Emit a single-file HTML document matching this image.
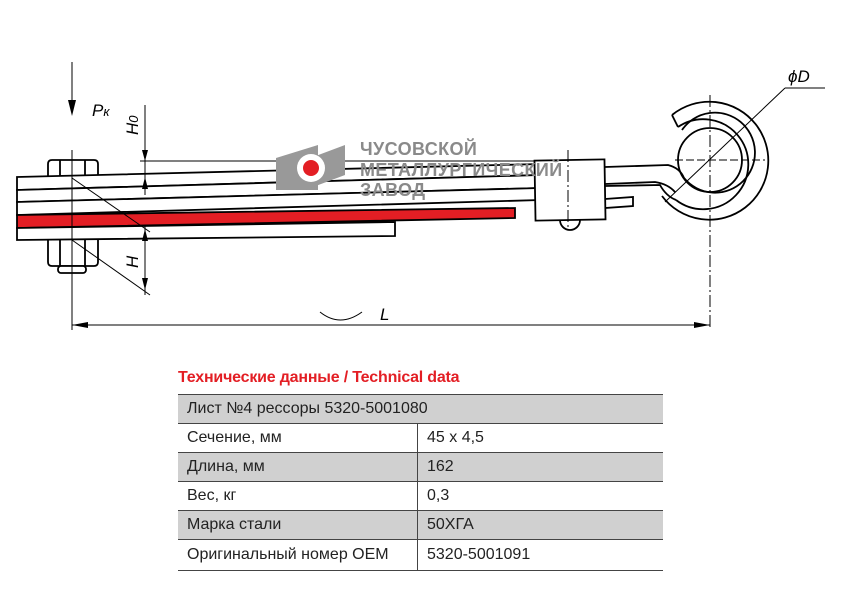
<!DOCTYPE html>
<html><head><meta charset="utf-8"><style>
body{margin:0;background:#fff;width:842px;height:595px;overflow:hidden;position:relative;font-family:"Liberation Sans",sans-serif}
.t{position:absolute;left:178px;top:369px;color:#e31e24;font-weight:bold;font-size:16px;letter-spacing:-0.2px}
table{position:absolute;left:178px;top:394px;width:485px;border-collapse:collapse;font-size:16px;color:#222}
td{height:28px;padding:0 0 0 9px;border-bottom:1.5px solid #444}
tr:first-child td{border-top:1.5px solid #444}
.g td{background:#d0d0d0}
td.c{border-left:1px solid #444;width:236px}
</style></head><body>
<svg width="842" height="365" style="position:absolute;left:0;top:0" font-family="Liberation Sans,sans-serif">
<g stroke="#000" stroke-width="1.8" fill="#fff">
<path d="M48,177 v-13 q0,-4 4,-4 h42 q4,0 4,4 v13"/>
<line x1="60" y1="160" x2="60" y2="177"/><line x1="85" y1="160" x2="85" y2="177"/>
<path d="M48,240 v22 q0,4 4,4 h42 q4,0 4,-4 v-22"/>
<line x1="60" y1="240" x2="60" y2="266"/><line x1="85" y1="240" x2="85" y2="266"/>
<rect x="58" y="266" width="28" height="7" rx="3"/>
<path d="M17,177 L540,164 L540,175 L17,190 Z"/>
<path d="M17,190 L540,175 L540,188 L17,202 Z"/>
<path d="M17,202 L540,188 L540,200 L17,215 Z"/>
<path d="M17,215 L515,208 L515,218 L17,228 Z" fill="#e31e24"/>
<path d="M17,228 L395,222 L395,236 L17,240 Z"/>
<path d="M605,199 L633,197 L633,206 L605,208 Z"/>
<path d="M560,220 a10,10 0 0 0 20,0" />
<path d="M605,167 L668,165 Q680,168 684,178"/>
<path d="M605,184 L655,182 Q668,184 675,192"/>
<path d="M605,186 L660,185 Q666,196 676,200"/>
<rect x="535" y="160" width="70" height="60" transform="rotate(-1 570 190)"/>
</g>
<g stroke="#000" stroke-width="1.8" fill="none">
<circle cx="710" cy="160" r="32"/>
<path d="M672,115 A59,59 0 1 1 662,196"/>
<path d="M672,115 L678,127"/>
<path d="M678,127 A45,45 0 1 1 676,200"/>
<path d="M684,178 A40,40 0 1 0 682,130"/>
</g>
<g stroke="#000" fill="none" stroke-width="1">
<line x1="72" y1="62" x2="72" y2="110"/>
<line x1="72" y1="150" x2="72" y2="330"/>
<line x1="145" y1="105" x2="145" y2="195"/>
<line x1="145" y1="225" x2="145" y2="295"/>
<line x1="140" y1="161" x2="535" y2="161"/>
<line x1="72" y1="178" x2="150" y2="232"/>
<line x1="72" y1="240" x2="150" y2="295"/>
<line x1="710" y1="95" x2="710" y2="330" stroke-dasharray="12,3,2,3"/>
<line x1="675" y1="160" x2="765" y2="160" stroke-dasharray="8,3"/>
<line x1="568" y1="150" x2="568" y2="230" stroke-dasharray="12,3,2,3"/>
<line x1="665" y1="202" x2="785" y2="88"/><line x1="785" y1="88" x2="825" y2="88"/>
<line x1="72" y1="325" x2="710" y2="325"/>
<path d="M320,312 Q340,328 362,312"/>
</g>
<polygon points="68,100 76,100 72,116"/>
<polygon points="142,150 148,150 145,161"/>
<polygon points="142,189 148,189 145,177"/>
<polygon points="142,241 148,241 145,229"/>
<polygon points="142,278 148,278 145,290"/>
<polygon points="72,325 88,322 88,328"/><polygon points="710,325 694,322 694,328"/>
<g font-style="italic" font-size="17" fill="#000">
<text x="92" y="116">P<tspan font-size="13">к</tspan></text>
<text x="138" y="135" transform="rotate(-90 138 135)">H<tspan font-size="13">0</tspan></text>
<text x="138" y="268" transform="rotate(-90 138 268)">H</text>
<text x="380" y="320">L</text>
<text x="788" y="82">ϕD</text>
</g>
<g fill="#999">
<polygon points="276,158 318,145 318,190 276,190"/>
<polygon points="305,160 345,145 345,175 305,190"/>
<circle cx="311" cy="168" r="14" fill="#fff"/>
<circle cx="311" cy="168" r="8" fill="#e31e24"/>
<g font-size="18" font-weight="bold" fill="#8a8a8a" letter-spacing="0.4">
<text x="360" y="155">ЧУСОВСКОЙ</text><text x="360" y="176">МЕТАЛЛУРГИЧЕСКИЙ</text><text x="360" y="196">ЗАВОД</text></g>
</g>
</svg>
<div class="t">Технические данные / Technical data</div>
<table>
<tr class="g"><td colspan="2">Лист №4 рессоры 5320-5001080</td></tr>
<tr><td>Сечение, мм</td><td class="c">45 x 4,5</td></tr>
<tr class="g"><td>Длина, мм</td><td class="c">162</td></tr>
<tr><td>Вес, кг</td><td class="c">0,3</td></tr>
<tr class="g"><td>Марка стали</td><td class="c">50ХГА</td></tr>
<tr><td style="height:30px">Оригинальный номер OEM</td><td class="c">5320-5001091</td></tr>
</table>
</body></html>
